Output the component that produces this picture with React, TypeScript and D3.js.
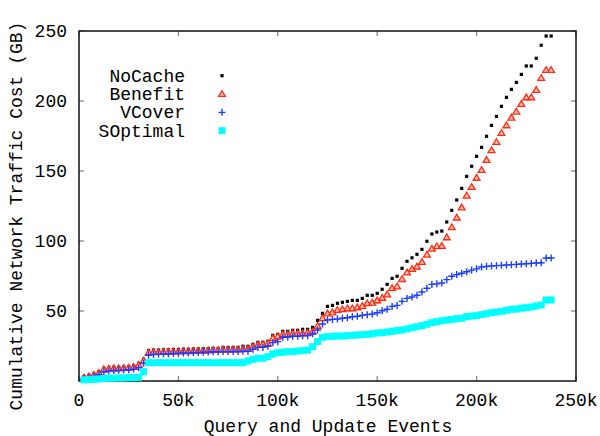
import React from "react";
import * as d3 from "d3";

// sampled every 2.5k events
const events = d3.range(1, 96).map((i) => i * 2500);

const noCache = [
  3.1, 4, 5, 6.5, 9, 9.5, 9.8, 9.8, 10, 10.2,
  10.7, 12.6, 15.5, 21.7, 22.1, 22.1, 22.3, 22.3, 22.5, 22.5,
  22.7, 22.7, 22.9, 22.9, 23.1, 23.1, 23.3, 23.3, 24, 24,
  24, 24, 24.8, 24.8, 26.2, 27.6, 27.6, 28.3, 32.6, 33.3,
  35.5, 35.5, 36.2, 36.2, 36.9, 36.9, 38.3, 43.3, 48.3, 53.3,
  54, 55.5, 56.2, 56.9, 57.6, 57.6, 59, 61.2, 61.2, 62.6,
  65.5, 69, 73.3, 74.8, 80.5, 85.5, 88, 90.5, 94, 99.8,
  105, 106.4, 107.1, 113.6, 121.9, 129.3, 137.6, 146.2, 153.4, 160.5,
  166.9, 174.8, 182.6, 189, 196.2, 202.6, 208.3, 213.3, 219, 225,
  225, 230.5, 239.8, 246.4, 246.4,
];

const benefit = [
  2.5, 3.3, 4.4, 5.8, 8.3, 8.8, 9, 9, 9.3, 9.5,
  10, 11.5, 14.5, 20.3, 20.6, 20.7, 20.8, 20.9, 21, 21.1,
  21.2, 21.3, 21.4, 21.5, 21.6, 21.8, 22.1, 22.1, 22.3, 22.3,
  22.5, 22.5, 22.7, 22.9, 24.5, 25.7, 26.2, 26.9, 30.5, 31.7,
  33.3, 33.3, 34, 34, 34, 34.5, 35.2, 39.3, 44.8, 48.3,
  49, 50.7, 51.2, 51.9, 51.9, 52.6, 53.6, 55.5, 55.9, 57.6,
  59.4, 61.8, 66.4, 67.5, 72.8, 77.5, 80, 81.7, 85, 90.2,
  94.5, 96.2, 96.5, 102.6, 109.8, 116.7, 124, 132.4, 138.6, 145.1,
  150.7, 157.9, 164.8, 170.7, 177.1, 182.6, 188.1, 192.4, 197.9, 202.6,
  202.6, 207.9, 216.4, 222.1, 222.1,
];

const vCover = [
  1.5, 2.2, 3.2, 4.5, 6.6, 7.2, 7.5, 7.6, 7.8, 8,
  8.5, 9.5, 12.6, 18.6, 19, 19.2, 19.4, 19.5, 19.7, 19.8,
  20, 20.1, 20.3, 20.4, 20.5, 20.7, 20.9, 20.9, 21, 21,
  21.1, 21.1, 21.2, 21.3, 22.6, 24, 24, 24.8, 27.4, 28.1,
  31.2, 31.4, 31.9, 31.9, 32.4, 32.4, 33.8, 36.4, 40.7, 43.6,
  44, 44.3, 44.8, 45.2, 45.9, 46.2, 46.9, 47.4, 47.9, 48.8,
  50.2, 51.2, 53.3, 54, 56.9, 59, 60, 61.2, 63.6, 66.3,
  69, 69.4, 70, 72.4, 74.8, 76, 77, 78, 79.2, 80.1,
  81.4, 81.9, 82.1, 82.4, 82.6, 82.9, 83.1, 83.3, 83.6, 83.8,
  84, 84.3, 84.5, 87.9, 87.9,
];

const sOptimal = [
  0.8, 1, 1.2, 1.5, 1.8, 2, 2, 2.2, 2.2, 2.4,
  2.4, 2.6, 6.7, 13.1, 13.1, 13.1, 13.1, 13.1, 13.1, 13.1,
  13.1, 13.1, 13.1, 13.1, 13.1, 13.1, 13.1, 13.1, 13.1, 13.1,
  13.1, 13.1, 13.1, 14.3, 15.5, 16.2, 16.2, 17.4, 19.3, 20.2,
  20.5, 21, 21, 21.4, 21.7, 22.1, 24.5, 28.1, 31.2, 31.7,
  31.9, 32.1, 32.1, 32.4, 32.6, 32.9, 33.1, 33.3, 33.8, 34.3,
  34.5, 35, 35.5, 36, 36.4, 37.2, 38, 38.8, 39.5, 40.5,
  41.7, 42.4, 43, 43.5, 44, 44.5, 44.8, 46, 46.4, 46.7,
  47.4, 48.1, 48.8, 49.3, 49.8, 50.5, 51.2, 51.4, 52, 52.4,
  52.9, 53.6, 54.3, 57.9, 57.9,
];

const seriesNames = ["NoCache", "Benefit", "VCover", "SOptimal"];
const xTicks = [0, 50000, 100000, 150000, 200000, 250000];
const xTickLabels = ["0", "50k", "100k", "150k", "200k", "250k"];
const yTicks = [50, 100, 150, 200, 250];

const font = "'Liberation Mono', 'Courier New', monospace";

function Marker({ kind, x, y }: { kind: number; x: number; y: number }) {
  if (kind === 0)
    return <rect x={x - 1.6} y={y - 1.6} width={3.2} height={3.2} fill="#000" />;
  if (kind === 1)
    return (
      <path
        d={`M${x},${y - 3.3}L${x + 3.4},${y + 2.4}L${x - 3.4},${y + 2.4}Z`}
        fill="#ffc2b4"
        stroke="#ff2a10"
        strokeWidth={1.3}
      />
    );
  if (kind === 2)
    return (
      <path
        d={`M${x - 3.5},${y}H${x + 3.5}M${x},${y - 3.5}V${y + 3.5}`}
        stroke="#1a3cff"
        strokeWidth={1.4}
      />
    );
  return <rect x={x - 3.5} y={y - 3.5} width={7} height={7} fill="#00ffff" />;
}

export default function App() {
  const width = 600;
  const height = 436;
  const x = d3.scaleLinear().domain([0, 250000]).range([79, 576]);
  const y = d3.scaleLinear().domain([0, 250]).range([381, 31]);
  const all = [noCache, benefit, vCover, sOptimal];

  return (
    <svg
      width={width}
      height={height}
      style={{ position: "absolute", left: 0, top: 0, background: "#fff" }}
      fontFamily={font}
      fontSize={18}
    >
      {/* ticks, mirrored on all sides */}
      <g stroke="#888" strokeWidth={1.3}>
        {xTicks.map((t) => (
          <g key={t}>
            <line x1={x(t)} x2={x(t)} y1={381} y2={376} />
            <line x1={x(t)} x2={x(t)} y1={31} y2={36} />
          </g>
        ))}
        {yTicks.map((t) => (
          <g key={t}>
            <line x1={79} x2={84} y1={y(t)} y2={y(t)} />
            <line x1={576} x2={571} y1={y(t)} y2={y(t)} />
          </g>
        ))}
      </g>
      <rect x={79} y={31} width={497} height={350} fill="none" stroke="#111" strokeWidth={1.5} />

      {xTicks.map((t, i) => (
        <text key={t} x={x(t)} y={406} textAnchor="middle">
          {xTickLabels[i]}
        </text>
      ))}
      {yTicks.map((t) => (
        <text key={t} x={67} y={y(t) + 6} textAnchor="end">
          {t}
        </text>
      ))}

      <text x={328} y={432} textAnchor="middle">
        Query and Update Events
      </text>
      <text transform="translate(22,216) rotate(-90)" textAnchor="middle">
        Cumulative Network Traffic Cost (GB)
      </text>

      {all.map((vals, k) => (
        <g key={k}>
          {vals.map((v, i) => (
            <Marker key={i} kind={k} x={x(events[i])} y={y(v)} />
          ))}
        </g>
      ))}

      {seriesNames.map((name, k) => (
        <g key={name}>
          <text x={185} y={81.7 + k * 18.33} textAnchor="end">
            {name}
          </text>
          <Marker kind={k} x={222} y={75.7 + k * 18.33} />
        </g>
      ))}
    </svg>
  );
}
